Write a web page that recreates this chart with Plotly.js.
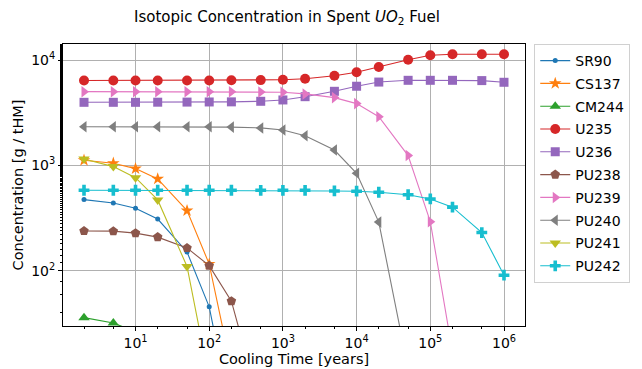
<!DOCTYPE html>
<html>
<head>
<meta charset="utf-8">
<script src="https://cdn.plot.ly/plotly-3.0.1.min.js"></script>
<style>html,body{margin:0;padding:0;background:#fff;}#chart{width:642px;height:369px;}</style>
</head>
<body>
<div id="chart"></div>
<script>
const coolingTime = [2, 5, 10, 20, 50, 100, 200, 500, 1000, 2000, 5000, 10000, 20000, 50000, 100000, 200000, 500000, 1000000];

const SR90  = [474, 441, 393, 310, 151, 45.6, 4.1, 0.03, null, null, null, null, null, null, null, null, null, null];
const CS137 = [1120, 1050, 933, 745, 373, 116, 11.8, 0.012, null, null, null, null, null, null, null, null, null, null];
const CM244 = [36, 32, 26.5, 18, 5.7, 0.83, 0.018, null, null, null, null, null, null, null, null, null, null, null];
const U235  = [6400, 6400, 6400, 6400, 6400, 6400, 6420, 6450, 6500, 6650, 7100, 7650, 8590, 10070, 11100, 11330, 11330, 11330];
const U236  = [3970, 3970, 3970, 3980, 3990, 4000, 4010, 4060, 4180, 4490, 5050, 5640, 6180, 6420, 6420, 6420, 6380, 6150];
const PU238 = [239, 238, 228, 209, 165, 112, 51.6, 5, 0.1, null, null, null, null, null, null, null, null, null];
const PU239 = [5010, 5010, 5010, 5010, 5010, 5000, 5000, 4980, 4950, 4770, 4400, 3860, 2900, 1240, 293, 17, 0.003, null];
const PU240 = [2330, 2330, 2330, 2330, 2330, 2330, 2310, 2270, 2170, 1910, 1400, 843, 290, 11.8, 0.06, null, null, null];
const PU241 = [1150, 975, 766, 471, 110, 9.4, 0.08, null, null, null, null, null, null, null, null, null, null, null];
const PU242 = [582, 582, 582, 582, 582, 582, 582, 581, 581, 581, 573, 570, 557, 528, 481, 402, 231, 91];

const seriesNames = ['SR90', 'CS137', 'CM244', 'U235', 'U236', 'PU238', 'PU239', 'PU240', 'PU241', 'PU242'];
const seriesData = [SR90, CS137, CM244, U235, U236, PU238, PU239, PU240, PU241, PU242];
const colors = ['#1f77b4', '#ff7f0e', '#2ca02c', '#d62728', '#9467bd', '#8c564b', '#e377c2', '#7f7f7f', '#bcbd22', '#17becf'];
const symbols = ['circle', 'star', 'triangle-up', 'circle', 'square', 'pentagon', 'triangle-right', 'triangle-left', 'triangle-down', 'cross'];
const sizes = [5, 9.5, 10, 10, 9, 10, 10, 10, 10, 9];

const xTickVals = [10, 100, 1000, 10000, 100000, 1000000];
const xTickText = ['10<sup>1</sup>', '10<sup>2</sup>', '10<sup>3</sup>', '10<sup>4</sup>', '10<sup>5</sup>', '10<sup>6</sup>'];
const yTickVals = [100, 1000, 10000];
const yTickText = ['10<sup>2</sup>', '10<sup>3</sup>', '10<sup>4</sup>'];

const traces = seriesNames.map((name, i) => ({
  x: coolingTime,
  y: seriesData[i],
  name: name,
  legendgroup: name,
  type: 'scatter',
  mode: 'lines+markers',
  connectgaps: false,
  line: {color: colors[i], width: 1.1},
  marker: {symbol: symbols[i], size: sizes[i], color: colors[i], line: {width: 0}}
}));

const FAM = 'DejaVu Sans, sans-serif';

const layout = {
  width: 642, height: 369,
  margin: {l: 63, r: 115, t: 44, b: 43},
  paper_bgcolor: '#fff', plot_bgcolor: '#fff',
  font: {family: FAM, size: 14, color: '#000'},
  title: {text: 'Isotopic Concentration in Spent <i>UO</i><sub>2</sub> Fuel', x: 0.447, xanchor: 'center', y: 0.955, yanchor: 'middle', font: {family: FAM, size: 15, color: '#000'}},
  showlegend: true,
  legend: {x: 1.02, xanchor: 'left', y: 1.0, yanchor: 'top', bgcolor: '#fff', bordercolor: '#d0d0d0', borderwidth: 1,
           font: {family: FAM, size: 14, color: '#000'}, tracegroupgap: 1.6, itemwidth: 30},
  xaxis: {
    type: 'log', range: [0.016, 6.285],
    tickvals: xTickVals, ticktext: xTickText,
    ticks: 'outside', ticklen: 4, tickwidth: 1, tickcolor: '#000',
    showgrid: true, gridcolor: '#b0b0b0', gridwidth: 1,
    showline: true, linecolor: '#000', linewidth: 1, mirror: true,
    zeroline: false,
    minor: {ticks: 'outside', ticklen: 2, tickcolor: '#000', showgrid: false},
    tickfont: {family: FAM, size: 14, color: '#000'},
    title: {text: 'Cooling Time [years]', font: {family: FAM, size: 14.5, color: '#000'}, standoff: 2}
  },
  yaxis: {
    type: 'log', range: [1.477, 4.152],
    tickvals: yTickVals, ticktext: yTickText,
    ticks: 'outside', ticklen: 4, tickwidth: 1, tickcolor: '#000',
    showgrid: true, gridcolor: '#b0b0b0', gridwidth: 1,
    showline: true, linecolor: '#000', linewidth: 1, mirror: true,
    zeroline: false,
    minor: {ticks: 'outside', ticklen: 2, tickcolor: '#000', showgrid: false},
    tickfont: {family: FAM, size: 14, color: '#000'},
    title: {text: 'Concentration [g / tHM]', font: {family: FAM, size: 14.5, color: '#000'}, standoff: 4}
  }
};

Plotly.newPlot('chart', traces, layout, {displayModeBar: false, staticPlot: true});
</script>
</body>
</html>
